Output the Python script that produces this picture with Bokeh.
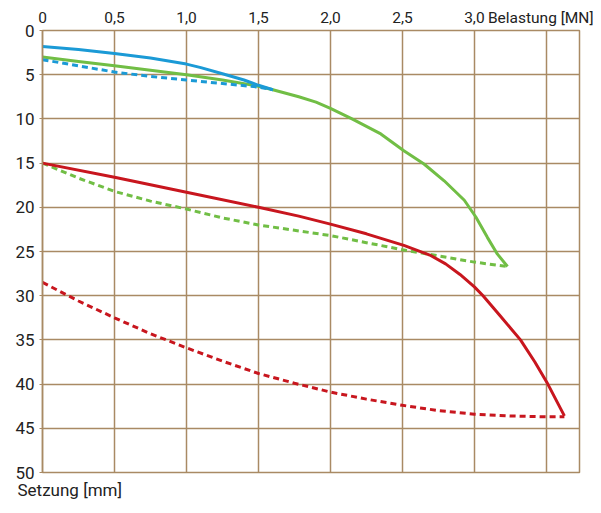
from bokeh.plotting import figure
from bokeh.models import Range1d, FixedTicker, Label, Title
from bokeh.embed import file_html
from bokeh.resources import INLINE

# Belastung [MN] (x) vs Setzung [mm] (y)
blue_x = [0, 0.25, 0.5, 0.75, 1.0, 1.1, 1.25, 1.4, 1.5, 1.6]
blue_y = [1.8, 2.15, 2.6, 3.1, 3.8, 4.2, 4.9, 5.6, 6.2, 6.7]
blue_dash_x = [0, 0.25, 0.5, 0.75, 1.0, 1.25, 1.5, 1.6]
blue_dash_y = [3.3, 4.0, 4.7, 5.2, 5.6, 6.0, 6.4, 6.7]

green_x = [0, 0.25, 0.5, 0.75, 1.0, 1.25, 1.5, 1.6, 1.78, 1.9, 2.0, 2.15, 2.35, 2.51, 2.65, 2.79, 2.93, 3.01, 3.09, 3.16, 3.23]
green_y = [3.0, 3.5, 4.0, 4.5, 5.0, 5.6, 6.3, 6.7, 7.5, 8.1, 8.8, 10.0, 11.7, 13.6, 15.1, 17.0, 19.2, 21.1, 23.4, 25.3, 26.7]
green_dash_x = [0, 0.25, 0.5, 0.75, 1.0, 1.25, 1.5, 1.75, 2.0, 2.25, 2.5, 2.75, 3.0, 3.23]
green_dash_y = [15.0, 16.7, 18.2, 19.3, 20.2, 21.2, 22.0, 22.6, 23.2, 24.0, 24.8, 25.5, 26.2, 26.7]

red_x = [0, 0.5, 1.0, 1.5, 1.78, 2.0, 2.25, 2.51, 2.69, 2.8, 2.9, 3.0, 3.06, 3.18, 3.32, 3.42, 3.51, 3.625]
red_y = [15.0, 16.6, 18.3, 20.0, 21.0, 21.9, 23.0, 24.3, 25.4, 26.4, 27.6, 29.0, 30.0, 32.3, 35.0, 37.5, 40.0, 43.6]
red_dash_x = [0, 0.25, 0.5, 0.75, 1.0, 1.25, 1.5, 1.75, 2.0, 2.25, 2.5, 2.75, 3.0, 3.25, 3.5, 3.625]
red_dash_y = [28.5, 30.6, 32.5, 34.3, 35.9, 37.4, 38.8, 39.9, 40.9, 41.7, 42.4, 43.0, 43.4, 43.6, 43.7, 43.7]

x_ticks = [0, 0.5, 1.0, 1.5, 2.0, 2.5, 3.0, 3.47]
x_tick_labels = ["0", "0,5", "1,0", "1,5", "2,0", "2,5", "3,0", "Belastung [MN]"]
x_grid = [0, 0.5, 1.0, 1.5, 2.0, 2.5, 3.0, 3.5]
y_ticks = [0, 5, 10, 15, 20, 25, 30, 35, 40, 45, 50]

FONT = "Roboto"
GRID = "#a98a64"
TXT = "#222222"
BLUE = "#1b9ad6"
GREEN = "#71be45"
RED = "#c8161e"

p = figure(width=593, height=505, output_backend="svg", toolbar_location=None,
           x_range=Range1d(0, 3.73), y_range=Range1d(50, 0),
           x_axis_location="above", min_border_left=42, min_border_right=14,
           min_border_top=30, min_border_bottom=33)

p.outline_line_color = GRID
p.outline_line_width = 1.5
p.background_fill_color = "white"
p.border_fill_color = "white"

p.xaxis.ticker = FixedTicker(ticks=x_ticks)
p.xaxis.major_label_overrides = {t: l for t, l in zip(x_ticks, x_tick_labels)}
p.yaxis.ticker = FixedTicker(ticks=y_ticks)
for ax in (p.xaxis, p.yaxis):
    ax.major_label_text_font = FONT
    ax.major_label_text_font_size = "17px"
    ax.major_label_text_color = TXT
    ax.axis_line_color = GRID
    ax.axis_line_width = 1.5
    ax.major_tick_line_color = GRID
    ax.minor_tick_line_color = None
    ax.major_tick_in = 0
p.xaxis.major_label_text_font_size = "15.5px"
p.xaxis.major_tick_out = 0
p.xaxis.axis_line_color = None
p.xaxis.major_label_standoff = 4
p.yaxis.major_tick_out = 3
p.yaxis.major_label_standoff = 5

p.xgrid.ticker = FixedTicker(ticks=x_grid)
p.ygrid.ticker = FixedTicker(ticks=y_ticks)
for g in (p.xgrid, p.ygrid):
    g.grid_line_color = GRID
    g.grid_line_width = 1.5

p.line(green_x, green_y, line_color=GREEN, line_width=3)
p.line(green_dash_x, green_dash_y, line_color=GREEN, line_width=3, line_dash="6 4")
p.line(blue_x, blue_y, line_color=BLUE, line_width=3)
p.line(blue_dash_x, blue_dash_y, line_color=BLUE, line_width=3, line_dash="6 4")
p.line(red_x, red_y, line_color=RED, line_width=3)
p.line(red_dash_x, red_dash_y, line_color=RED, line_width=3, line_dash="6 4")

p.add_layout(Title(text="Setzung [mm]", align="left", offset=-25, standoff=11,
                   text_font=FONT, text_font_size="17px", text_font_style="normal",
                   text_color=TXT), "below")
p.add_layout(Label(x=-0.264, y=-0.71, text="]", text_font=FONT, text_align="right",
                   text_font_size="17px", text_color=TXT, text_baseline="alphabetic",
                   level="overlay"))

open("out.html", "w").write(file_html(p, INLINE))
